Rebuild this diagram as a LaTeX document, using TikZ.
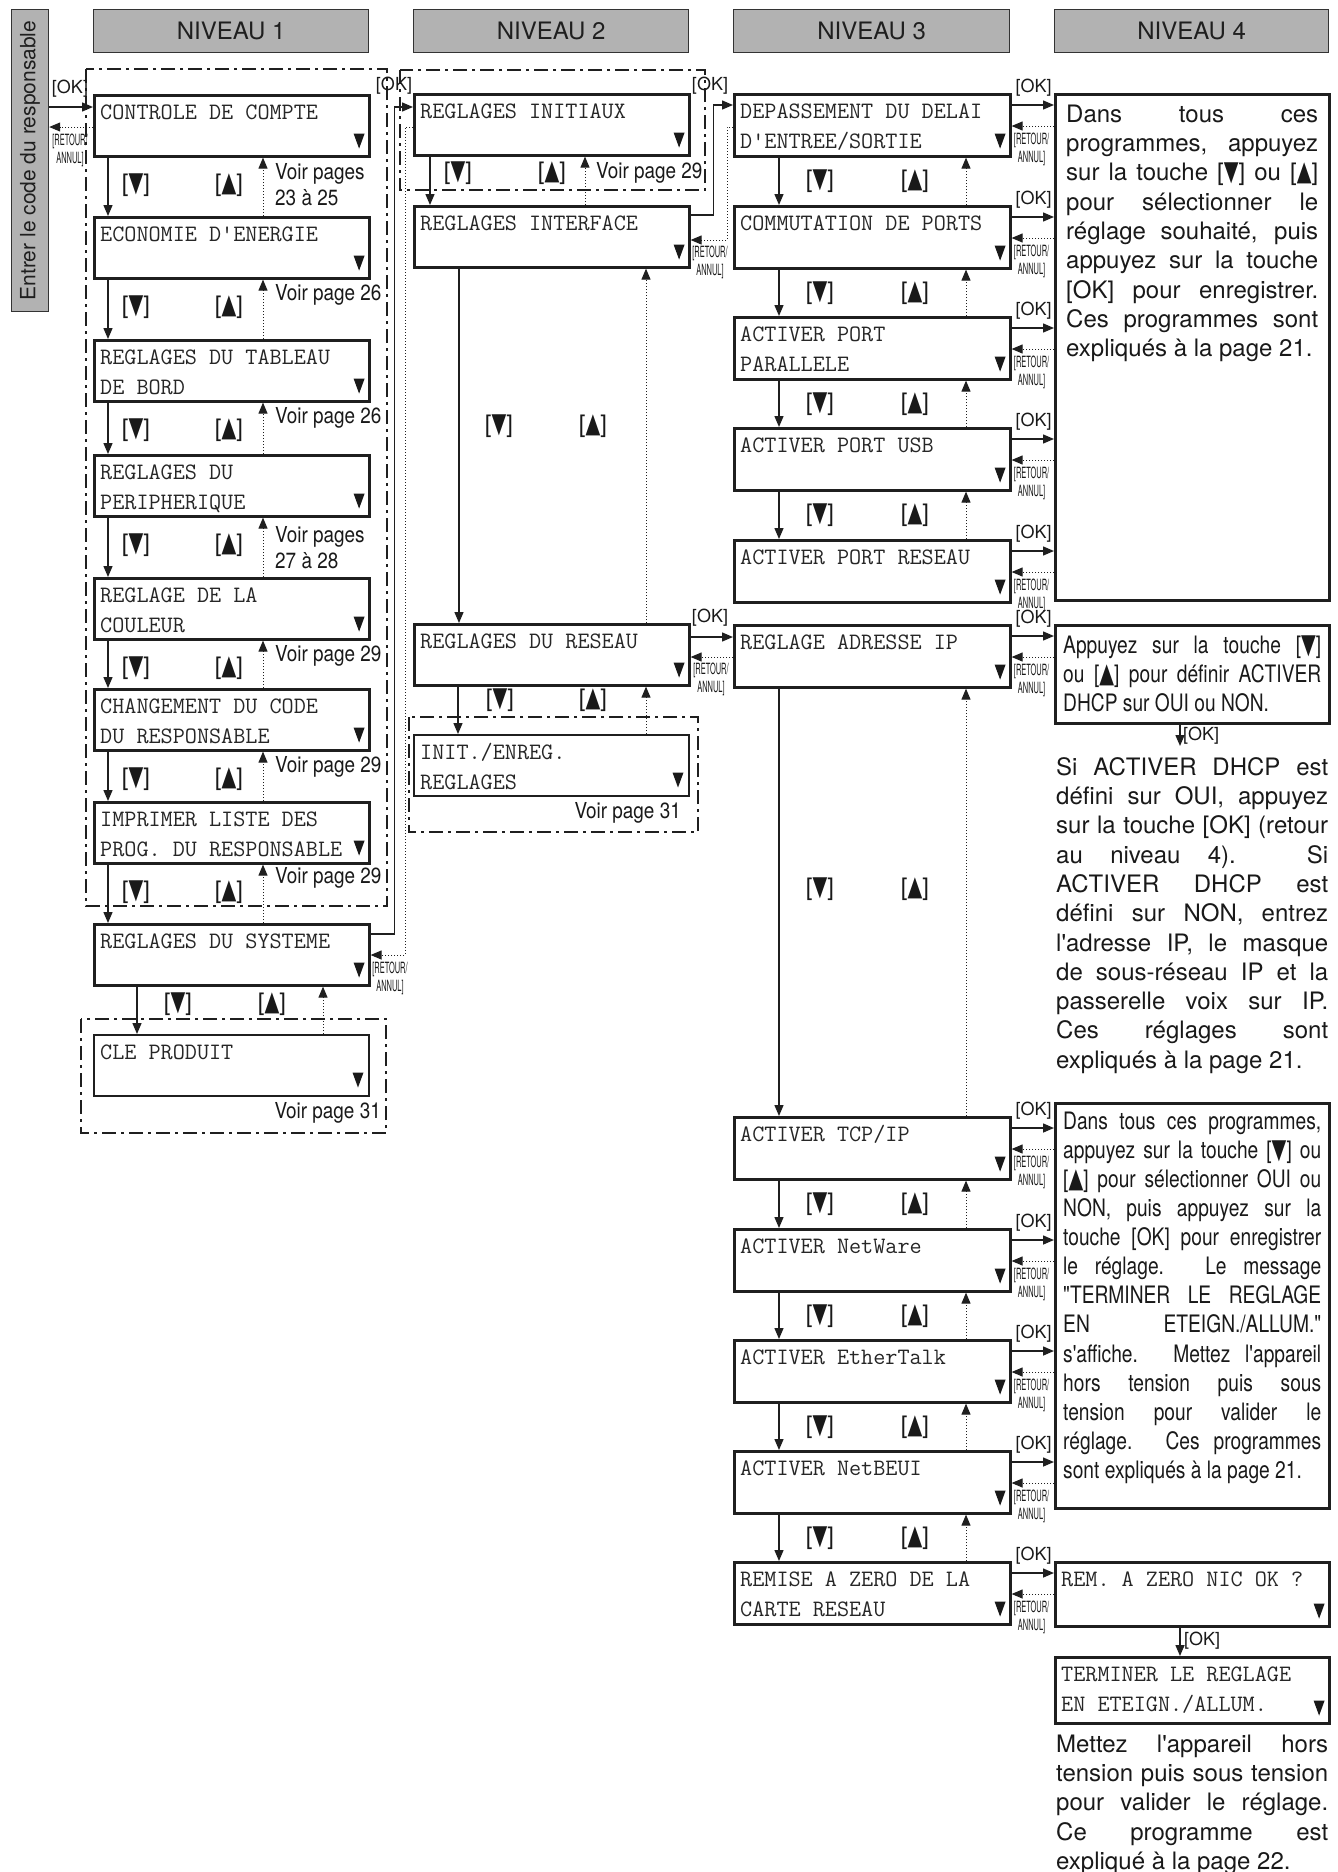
\documentclass[tikz,border=0pt]{standalone}
\usepackage{fontspec}
\usepackage{graphicx}
\usetikzlibrary{arrows.meta}
\newfontfamily\hv{TeX Gyre Heros}
\newfontfamily\cnd[FakeStretch=0.8]{TeX Gyre Heros}
\newfontfamily\vcnd[FakeStretch=0.86]{TeX Gyre Heros}
\newfontfamily\ccnd[FakeStretch=0.48]{TeX Gyre Heros}
\newfontfamily\symf{DejaVu Sans}
\newcommand\DN{{\symf\scalebox{0.8}[1.15]{▼}}}
\newcommand\UP{{\symf\scalebox{0.8}[1.15]{▲}}}
\newcommand\LB{\linebreak\relax}
\tikzset{
 mbox/.style={draw=black!88, line width=2.6pt, minimum width=275pt, minimum height=61pt, inner sep=0pt, anchor=north west},
 tbox/.style={mbox, line width=1.5pt},
 hdr/.style={draw=black!80, fill=black!30, line width=1.2pt, inner sep=0pt, anchor=north west, text=black!88, font=\hv\fontsize{24}{28}\selectfont},
 dnarr/.style={draw=black!88, line width=1.4pt, -{Triangle[length=11pt,width=9pt]}},
 uparr/.style={draw=black!88, line width=1pt, dotted, -{Triangle[length=11pt,width=9pt]}},
 dd/.style={draw=black!88, line width=2pt, dash pattern=on 14pt off 5pt on 3pt off 5pt},
 mono/.style={font=\ttfamily\fontsize{23.5}{28}\selectfont, inner sep=0pt, anchor=base west, text=black!85},
 keylab/.style={font=\hv\fontsize{24}{28}\selectfont, inner sep=0pt, text=black!90},
 voir/.style={font=\vcnd\fontsize{22}{26}\selectfont, inner sep=0pt, anchor=west, align=left, text=black!90},
 oklab/.style={font=\hv\fontsize{18}{20}\selectfont, inner sep=0pt, text=black!90},
 retlab/.style={font=\ccnd\fontsize{15.5}{18}\selectfont, inner sep=0pt, align=center, anchor=north, text=black!90},
 para/.style={inner sep=0pt, anchor=north west, align=justify, text=black!90, font=\hv\fontsize{24}{29.3}\selectfont},
 cpara/.style={para, font=\cnd\fontsize{24}{29.1}\selectfont},
}
% box with two mono lines and the small down marker
\newcommand\mbx[6][mbox]{%
 \node[#1] (#2) at (#3,#4) {};
 \node[mono] at ([shift={(7,25)}]#2.north west) {#5};
 \node[mono] at ([shift={(7,55)}]#2.north west) {#6};
 \fill[black!90] ([shift={(-17,-24)}]#2.south east) -- ++(11,0) -- ++(-5.5,15) -- cycle;
}
\begin{document}
\begin{tikzpicture}[x=1pt,y=-1pt]
\useasboundingbox (0,0) rectangle (1338,1872);

% dash-dot group frames
\draw[dd] (86,69) rectangle (387,906);
\draw[dd] (400,70) rectangle (705,190);
\draw[dd] (81,1019) rectangle (386,1133);
\draw[dd] (409,717) rectangle (698,832);

% headers
\node[hdr, minimum width=37pt, minimum height=302pt] (g0) at (11,9) {};
\node[rotate=90, inner sep=0pt, text=black!88, font=\hv\fontsize{21}{24}\selectfont] at (g0.center) {Entrer le code du responsable};
\node[hdr, minimum width=275pt, minimum height=43pt] (h1) at (93,9) {NIVEAU 1};
\node[hdr, minimum width=275pt, minimum height=43pt] (h2) at (413,9) {NIVEAU 2};
\node[hdr, minimum width=276pt, minimum height=43pt] (h3) at (733,9) {NIVEAU 3};
\node[hdr, minimum width=274pt, minimum height=43pt] (h4) at (1054,9) {NIVEAU 4};

% level 1
\mbx{c1}{93}{94}{CONTROLE DE COMPTE}{}
\mbx{c2}{93}{216}{ECONOMIE D'ENERGIE}{}
\mbx{c3}{93}{339}{REGLAGES DU TABLEAU}{DE BORD}
\mbx{c4}{93}{454}{REGLAGES DU}{PERIPHERIQUE}
\mbx{c5}{93}{577}{REGLAGE DE LA}{COULEUR}
\mbx{c6}{93}{688}{CHANGEMENT DU CODE}{DU RESPONSABLE}
\mbx{c7}{93}{801}{IMPRIMER LISTE DES}{PROG. DU RESPONSABLE}
\mbx{c8}{93}{923}{REGLAGES DU SYSTEME}{}
\mbx[tbox]{c9}{93}{1034}{CLE PRODUIT}{}

\foreach \a/\b in {c1/c2,c2/c3,c3/c4,c4/c5,c5/c6,c6/c7,c7/c8}{
 \draw[dnarr] ([shift={(15,0)}]\a.south west) -- ([shift={(15,0)}]\b.north west);
 \draw[uparr] ([shift={(170,0)}]\b.north west) -- ([shift={(170,0)}]\a.south west);
 \node[keylab] at ([shift={(43,28)}]\a.south west) {[\DN]};
 \node[keylab] at ([shift={(136,28)}]\a.south west) {[\UP]};
}
\draw[dnarr] ([shift={(44,0)}]c8.south west) -- ([shift={(44,0)}]c9.north west);
\draw[uparr] ([shift={(230,0)}]c9.north west) -- ([shift={(230,0)}]c8.south west);
\node[keylab] at (178,1004) {[\DN]};
\node[keylab] at (272,1004) {[\UP]};

\node[voir] at (275,185) {Voir pages\\23 à 25};
\node[voir] at (275,295) {Voir page 26};
\node[voir] at (275,418) {Voir page 26};
\node[voir] at (275,548) {Voir pages\\27 à 28};
\node[voir] at (275,656) {Voir page 29};
\node[voir] at (275,767) {Voir page 29};
\node[voir] at (275,878) {Voir page 29};
\node[voir, anchor=east] at (381,1113) {Voir page 31};

% entry connection
\path ([shift={(0,13)}]c1.north west) coordinate (okc) ([shift={(0,33)}]c1.north west) coordinate (rtc);
\draw[dnarr] (okc -| g0.east) -- (okc);
\draw[uparr] (rtc) -- (rtc -| g0.east);
\node[oklab] at (70,89) {[OK]};
\node[retlab] at (70,134) {[RETOUR/\\ANNUL]};

% level 2
\mbx{d1}{413}{93}{REGLAGES INITIAUX}{}
\mbx{d2}{413}{205}{REGLAGES INTERFACE}{}
\mbx{d3}{413}{623}{REGLAGES DU RESEAU}{}
\mbx[tbox]{d4}{413}{734}{INIT./ENREG.}{REGLAGES}

\draw[dnarr] ([shift={(17,0)}]d1.south west) -- ([shift={(17,0)}]d2.north west);
\draw[uparr] ([shift={(172,0)}]d2.north west) -- ([shift={(172,0)}]d1.south west);
\draw[dnarr] ([shift={(46,0)}]d2.south west) -- ([shift={(46,0)}]d3.north west);
\draw[uparr] ([shift={(233,0)}]d3.north west) -- ([shift={(233,0)}]d2.south west);
\draw[dnarr] ([shift={(45,0)}]d3.south west) -- ([shift={(45,0)}]d4.north west);
\draw[uparr] ([shift={(233,0)}]d4.north west) -- ([shift={(233,0)}]d3.south west);
\node[keylab] at (458,173) {[\DN]};
\node[keylab] at (552,173) {[\UP]};
\node[voir] at (596,173) {Voir page 29};
\node[keylab] at (499,426) {[\DN]};
\node[keylab] at (593,426) {[\UP]};
\node[keylab] at (500,700) {[\DN]};
\node[keylab] at (593,700) {[\UP]};
\node[voir, anchor=east] at (681,813) {Voir page 31};

% level 1 -> level 2
\draw[dnarr] ([shift={(0,11)}]c8.north east) -- ++(24,0) |- ([shift={(0,14)}]d1.north west);
\draw[uparr] ([shift={(0,34)}]d1.north west) -- ++(-8,0) |- ([shift={(0,32)}]c8.north east);
\node[oklab] at (394,86) {[OK]};
\node[retlab] at (390,962) {[RETOUR/\\ANNUL]};

% level 3
\mbx[mbox,minimum width=276pt,minimum height=62pt]{e1}{733}{93}{DEPASSEMENT DU DELAI}{D'ENTREE/SORTIE}
\mbx[mbox,minimum width=276pt,minimum height=62pt]{e2}{733}{205}{COMMUTATION DE PORTS}{}
\mbx[mbox,minimum width=276pt,minimum height=62pt]{e3}{733}{316}{ACTIVER PORT}{PARALLELE}
\mbx[mbox,minimum width=276pt,minimum height=62pt]{e4}{733}{427}{ACTIVER PORT USB}{}
\mbx[mbox,minimum width=276pt,minimum height=62pt]{e5}{733}{539}{ACTIVER PORT RESEAU}{}
\mbx[mbox,minimum width=276pt,minimum height=62pt]{e6}{733}{624}{REGLAGE ADRESSE IP}{}
\mbx[mbox,minimum width=276pt,minimum height=62pt]{e7}{733}{1116}{ACTIVER TCP/IP}{}
\mbx[mbox,minimum width=276pt,minimum height=62pt]{e8}{733}{1228}{ACTIVER NetWare}{}
\mbx[mbox,minimum width=276pt,minimum height=62pt]{e9}{733}{1339}{ACTIVER EtherTalk}{}
\mbx[mbox,minimum width=276pt,minimum height=62pt]{e10}{733}{1450}{ACTIVER NetBEUI}{}
\mbx[mbox,minimum width=276pt,minimum height=62pt]{e11}{733}{1561}{REMISE A ZERO DE LA}{CARTE RESEAU}

\foreach \a/\b in {e1/e2,e2/e3,e3/e4,e4/e5,e6/e7,e7/e8,e8/e9,e9/e10,e10/e11}{
 \draw[dnarr] ([shift={(46,0)}]\a.south west) -- ([shift={(46,0)}]\b.north west);
 \draw[uparr] ([shift={(233,0)}]\b.north west) -- ([shift={(233,0)}]\a.south west);
}
\foreach \a in {e1,e2,e3,e4,e7,e8,e9,e10}{
 \node[keylab] at ([shift={(87,24)}]\a.south west) {[\DN]};
 \node[keylab] at ([shift={(182,24)}]\a.south west) {[\UP]};
}
\node[keylab] at (820,889) {[\DN]};
\node[keylab] at (915,889) {[\UP]};

% level 2 -> level 3
\draw[dnarr] ([shift={(0,10)}]d2.north east) -- ++(23,0) |- ([shift={(0,12)}]e1.north west);
\draw[uparr] ([shift={(0,34)}]e1.north west) -- ++(-6,0) |- ([shift={(0,35)}]d2.north east);
\node[oklab] at (710,86) {[OK]};
\node[retlab] at (710,246) {[RETOUR/\\ANNUL]};
\path ([shift={(0,14)}]d3.north east) coordinate (okd) ([shift={(0,34)}]d3.north east) coordinate (rtd);
\draw[dnarr] (okd) -- (okd -| e6.west);
\draw[uparr] (rtd -| e6.west) -- (rtd);
\node[oklab] at (710,618) {[OK]};
\node[retlab] at (711,663) {[RETOUR/\\ANNUL]};

% level 4
\node[mbox, minimum width=274pt, minimum height=506pt] (f1) at (1054,93) {};
\node[mbox, minimum width=274pt, minimum height=98pt] (f2) at (1054,624) {};
\node[mbox, minimum width=274pt, minimum height=405pt] (f3) at (1054,1102) {};
\mbx[mbox,minimum width=274pt,minimum height=64pt]{f4}{1054}{1561}{REM. A ZERO NIC OK ?}{}
\mbx[mbox,minimum width=274pt,minimum height=66pt]{f5}{1054}{1656}{TERMINER LE REGLAGE}{EN ETEIGN./ALLUM.}

\foreach \e/\f in {e1/f1,e2/f1,e3/f1,e4/f1,e5/f1,e6/f2,e7/f3,e8/f3,e9/f3,e10/f3,e11/f4}{
 \path ([shift={(0,12)}]\e.north east) coordinate (ok\e) ([shift={(0,33)}]\e.north east) coordinate (rt\e);
 \draw[dnarr] (ok\e) -- (ok\e -| \f.west);
 \draw[uparr] (rt\e -| \f.west) -- (rt\e);
 \node[oklab] at ([shift={(22,-5)}]\e.north east) {[OK]};
 \node[retlab] at ([shift={(20,40)}]\e.north east) {[RETOUR/\\ANNUL]};
}

\node[para, text width=252pt] (t1) at (1066,102) {\noindent\rule{0pt}{20pt}Dans tous ces\LB programmes, appuyez\LB sur la touche [\DN] ou [\UP]\LB pour sélectionner le\LB réglage souhaité, puis\LB appuyez sur la touche\LB [OK] pour enregistrer.\LB Ces programmes sont\LB expliqués à la page 21.};

\node[cpara, text width=258pt] (t2) at (1063,633) {\noindent\rule{0pt}{20pt}Appuyez sur la touche [\DN]\LB ou [\UP] pour définir ACTIVER\LB DHCP sur OUI ou NON.};

\coordinate (p1a) at (1180,746);
\draw[dnarr] (f2.south -| p1a) -- (p1a);
\node[oklab, anchor=west] at (1183,736) {[OK]};

\node[para, text width=272pt] (t3) at (1056,755) {\noindent\rule{0pt}{20pt}Si ACTIVER DHCP est\LB défini sur OUI, appuyez\LB sur la touche [OK] (retour\LB au niveau 4). Si\LB ACTIVER DHCP est\LB défini sur NON, entrez\LB l'adresse IP, le masque\LB de sous-réseau IP et la\LB passerelle voix sur IP.\LB Ces réglages sont\LB expliqués à la page 21.};

\node[cpara, text width=258pt] (t4) at (1063,1109) {\noindent\rule{0pt}{20pt}Dans tous ces programmes,\LB appuyez sur la touche [\DN] ou\LB [\UP] pour sélectionner OUI ou\LB NON, puis appuyez sur la\LB touche [OK] pour enregistrer\LB le réglage. Le message\LB "TERMINER LE REGLAGE\LB EN ETEIGN./ALLUM."\LB s'affiche. Mettez l'appareil\LB hors tension puis sous\LB tension pour valider le\LB réglage. Ces programmes\LB sont expliqués à la page 21.};

\draw[dnarr] ([shift={(126,0)}]f4.south west) -- ([shift={(126,0)}]f5.north west);
\node[oklab, anchor=west] at (1184,1641) {[OK]};

\node[para, text width=272pt] (t5) at (1056,1732) {\noindent\rule{0pt}{20pt}Mettez l'appareil hors\LB tension puis sous tension\LB pour valider le réglage.\LB Ce programme est\LB expliqué à la page 22.};

\end{tikzpicture}
\end{document}
